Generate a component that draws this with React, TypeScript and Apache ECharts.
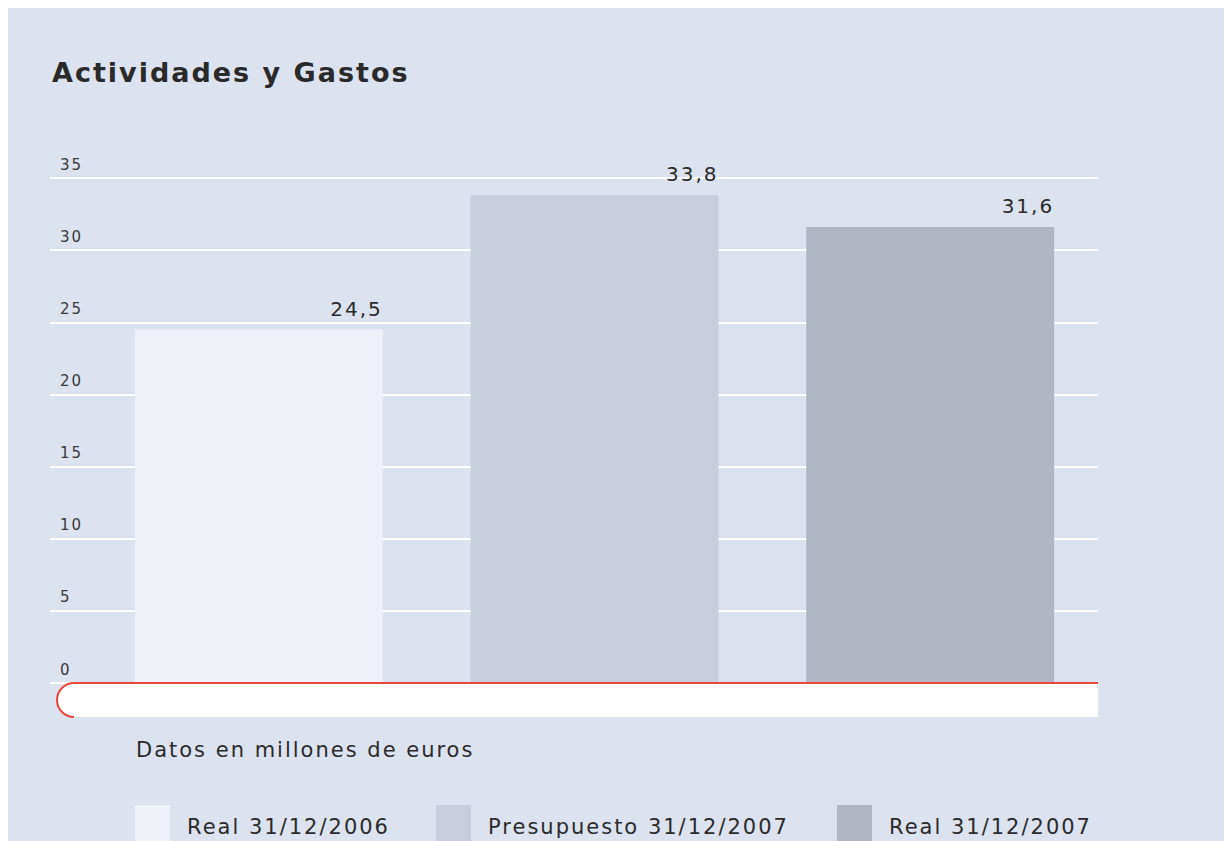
import React, { useEffect, useRef } from "react";
import * as echarts from "echarts";

const title = "Actividades y Gastos";
const subtitle = "Datos en millones de euros";
const categories = ["Real 31/12/2006", "Presupuesto 31/12/2007", "Real 31/12/2007"];
const values = [24.5, 33.8, 31.6];
const colors = ["#eef1f8", "#c8cedb", "#b1b6c3"];
const legendLefts = [127, 428, 829];
const yMax = 35;
const yInterval = 5;

const FONT = "DejaVu Sans";

export default function App() {
  const ref = useRef<HTMLDivElement>(null);
  useEffect(() => {
    if (!ref.current) return;
    const chart = echarts.init(ref.current, null, { renderer: "svg" });
    const series = categories.map((name, i) => ({
      name,
      type: "bar",
      xAxisIndex: 0,
      yAxisIndex: 0,
      barWidth: 248,
      barGap: "-100%",
      data: categories.map((_, j) => (j === i ? values[i] : "-")),
      itemStyle: { color: colors[i] },
      label: {
        show: true,
        position: ["100%", 0],
        align: "right",
        verticalAlign: "bottom",
        offset: [0, -11],
        fontFamily: FONT,
        fontSize: 20,
        color: "#2b2b2b",
        formatter: (p: any) => String(p.value).replace(".", ","),
      },
    }));
    chart.setOption({
      animation: false,
      backgroundColor: "#dce2ee",
      title: {
        text: title,
        left: 44,
        top: 51,
        padding: 0,
        textStyle: { fontFamily: FONT, fontSize: 27, fontWeight: "bold", color: "#2a2a2a" },
      },
      legend: categories.map((name, i) => ({
        data: [name],
        left: legendLefts[i],
        top: 797,
        padding: 0,
        itemWidth: 35,
        itemHeight: 44,
        icon: "rect",
        selectedMode: false,
        textStyle: { fontFamily: FONT, fontSize: 21, color: "#2b2b2b", padding: [10, 0, 0, 12] },
      })),
      grid: [
        { left: 83, right: 134, top: 170, bottom: 158 },
        { left: 42, right: 134, top: 170, bottom: 158 },
      ],
      xAxis: [
        { type: "category", gridIndex: 0, data: categories, show: false },
        { type: "category", gridIndex: 1, data: categories, show: false },
      ],
      yAxis: [
        { type: "value", gridIndex: 0, min: 0, max: yMax, interval: yInterval, show: false, splitLine: { show: false } },
        {
          type: "value",
          gridIndex: 1,
          min: 0,
          max: yMax,
          interval: yInterval,
          axisLine: { show: false },
          axisTick: { show: false },
          splitLine: { show: true, lineStyle: { color: "#ffffff", width: 2 } },
          axisLabel: {
            inside: true,
            margin: 10,
            verticalAlign: "bottom",
            padding: [0, 0, 6, 0],
            fontFamily: FONT,
            fontSize: 15,
            color: "#3a3a3a",
          },
          z: 0,
        },
      ],
      series,
      graphic: [
        {
          type: "rect",
          z: 100,
          shape: { x: 49, y: 675, width: 1041, height: 34, r: [17, 0, 0, 17] },
          style: { fill: "#ffffff" },
        },
        {
          type: "arc",
          z: 101,
          shape: { cx: 66, cy: 692, r: 17, startAngle: Math.PI / 2, endAngle: Math.PI * 1.5, clockwise: true },
          style: { stroke: "#e8463f", lineWidth: 2, fill: "none" },
        },
        {
          type: "line",
          z: 101,
          shape: { x1: 66, y1: 675, x2: 1090, y2: 675 },
          style: { stroke: "#e8463f", lineWidth: 2 },
        },
        {
          type: "text",
          z: 101,
          x: 128,
          y: 742,
          style: {
            text: subtitle,
            fontFamily: FONT,
            fontSize: 21,
            fill: "#2b2b2b",
            verticalAlign: "middle",
          },
        },
      ],
    });
    return () => chart.dispose();
  }, []);
  return (
    <>
      <style>{"#chartbox svg text { letter-spacing: 2px; }"}</style>
      <div id="chartbox" ref={ref} style={{ width: 1224, height: 833 }} />
    </>
  );
}
